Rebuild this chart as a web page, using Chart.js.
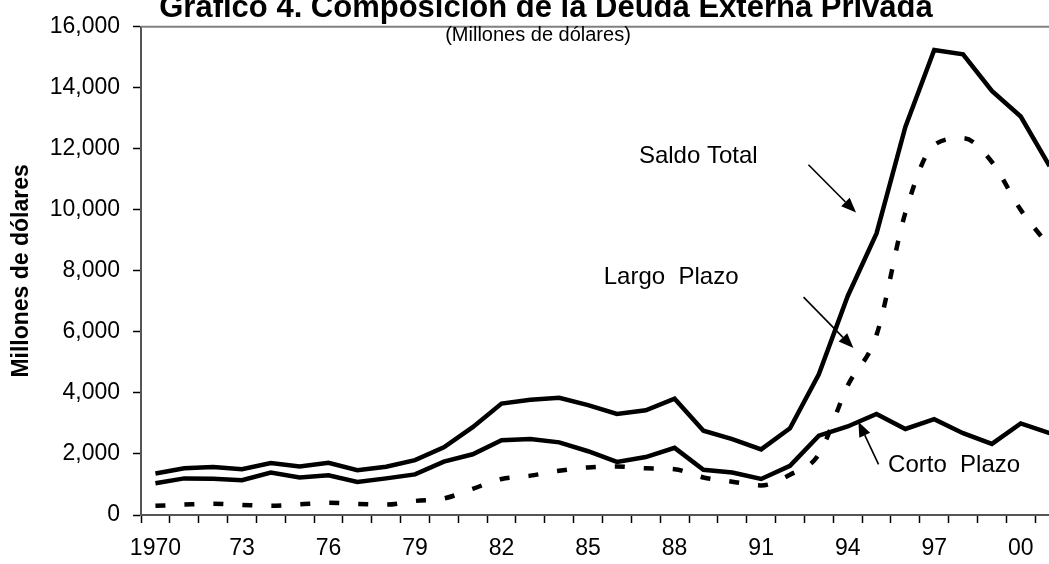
<!DOCTYPE html>
<html>
<head>
<meta charset="utf-8">
<script src="https://cdn.jsdelivr.net/npm/chart.js@4.4.1/dist/chart.umd.min.js"></script>
<style>
  html, body { margin: 0; padding: 0; background: #fff; overflow: hidden; }
  #wrap { width: 1080px; height: 564px; }
</style>
</head>
<body>
<div id="wrap"><canvas id="chart" width="1080" height="564"></canvas></div>
<script>
// Composición de la Deuda Externa Privada, millones de dólares, 1970-2001

const years = [1970, 1971, 1972, 1973, 1974, 1975, 1976, 1977, 1978, 1979,
               1980, 1981, 1982, 1983, 1984, 1985, 1986, 1987, 1988, 1989,
               1990, 1991, 1992, 1993, 1994, 1995, 1996, 1997, 1998, 1999,
               2000, 2001];

// tick text shown under every third year
const xTickText = ['1970', '', '', '73', '', '', '76', '', '', '79',
                   '', '', '82', '', '', '85', '', '', '88', '',
                   '', '91', '', '', '94', '', '', '97', '', '',
                   '00', ''];

const saldoTotal = [1360, 1530, 1570, 1500, 1700, 1590, 1710, 1470, 1580, 1800,
                    2220, 2880, 3650, 3780, 3840, 3600, 3310, 3430, 3810, 2760,
                    2490, 2150, 2840, 4610, 7170, 9230, 12720, 15240, 15100, 13900,
                    13060, 11430];

const largoPlazo = [300, 340, 370, 330, 300, 350, 400, 360, 340, 460,
                    540, 860, 1180, 1290, 1450, 1560, 1590, 1530, 1500, 1230,
                    1090, 970, 1320, 1990, 4240, 5900, 9900, 12130, 12350, 11570,
                    10000, 8800];

const cortoPlazo = [1040, 1200, 1190, 1140, 1390, 1230, 1300, 1080, 1200, 1330,
                    1750, 1990, 2450, 2490, 2380, 2090, 1740, 1900, 2200, 1480,
                    1390, 1180, 1610, 2600, 2900, 3310, 2820, 3140, 2680, 2330,
                    3000, 2680];

// text labels with their arrows, placed in data units (year, value)
const notes = [
  { text: 'Saldo Total',  at: [1988.82, 11750], from: [1992.64, 11480], to: [1994.29, 9910] },
  { text: 'Largo  Plazo', at: [1987.88, 7790],  from: [1992.47, 7140],  to: [1994.20, 5470] },
  { text: 'Corto  Plazo', at: [1997.69, 1610],  from: [1995.07, 1660],  to: [1994.37, 3060] }
];

const FONT = "'Liberation Sans', Arial, sans-serif";

// draws titles, the plot's top border and the arrow notes
const decorations = {
  id: 'decorations',
  afterDraw(chart) {
    const ctx = chart.ctx;
    const xs = chart.scales.x, ys = chart.scales.y;
    const area = chart.chartArea;
    const px = (yr) => xs.getPixelForValue(yr - years[0]);
    const py = (v) => ys.getPixelForValue(v);

    ctx.save();
    // top border of plot area
    ctx.strokeStyle = '#808080';
    ctx.lineWidth = 2;
    ctx.beginPath();
    ctx.moveTo(area.left, area.top);
    ctx.lineTo(area.right, area.top);
    ctx.stroke();

    ctx.fillStyle = '#000';
    ctx.textAlign = 'center';
    ctx.textBaseline = 'alphabetic';
    ctx.font = 'bold 31px ' + FONT;
    ctx.fillText('Gráfico 4. Composición de la Deuda Externa Privada', 546, 17);

    ctx.font = '20px ' + FONT;
    ctx.textBaseline = 'middle';
    ctx.fillText('(Millones de dólares)', 538, 35);

    // y axis title
    ctx.save();
    ctx.translate(22, (area.top + area.bottom) / 2);
    ctx.rotate(-Math.PI / 2);
    ctx.font = 'bold 23px ' + FONT;
    ctx.fillText('Millones de dólares', 0, 0);
    ctx.restore();

    ctx.font = '24px ' + FONT;
    notes.forEach(n => {
      ctx.fillText(n.text, px(n.at[0]), py(n.at[1]));
      const x1 = px(n.from[0]), y1 = py(n.from[1]);
      const x2 = px(n.to[0]), y2 = py(n.to[1]);
      const ang = Math.atan2(y2 - y1, x2 - x1);
      const head = 15, half = 6;
      const bx = x2 - head * Math.cos(ang), by = y2 - head * Math.sin(ang);
      ctx.strokeStyle = '#000';
      ctx.lineWidth = 1.6;
      ctx.beginPath();
      ctx.moveTo(x1, y1);
      ctx.lineTo(bx, by);
      ctx.stroke();
      ctx.beginPath();
      ctx.moveTo(x2, y2);
      ctx.lineTo(bx + half * Math.sin(ang), by - half * Math.cos(ang));
      ctx.lineTo(bx - half * Math.sin(ang), by + half * Math.cos(ang));
      ctx.closePath();
      ctx.fill();
    });
    ctx.restore();
  }
};

const lineStyle = {
  borderColor: '#000',
  borderWidth: 4.5,
  pointRadius: 0,
  fill: false,
  tension: 0
};

new Chart(document.getElementById('chart').getContext('2d'), {
  type: 'line',
  data: {
    labels: years.map(String),
    datasets: [
      Object.assign({ label: 'Saldo Total', data: saldoTotal }, lineStyle),
      Object.assign({ label: 'Largo Plazo', data: largoPlazo, borderDash: [10, 19],
                      cubicInterpolationMode: 'monotone' }, lineStyle),
      Object.assign({ label: 'Corto Plazo', data: cortoPlazo }, lineStyle)
    ]
  },
  options: {
    responsive: false,
    animation: false,
    devicePixelRatio: 1,
    layout: { padding: { left: 0, top: 18, right: 16, bottom: 0 } },
    plugins: {
      legend: { display: false },
      tooltip: { enabled: false },
      title: { display: false }
    },
    scales: {
      x: {
        type: 'category',
        offset: true,
        grid: {
          offset: true,
          drawOnChartArea: false,
          drawTicks: true,
          tickLength: 8,
          tickWidth: 1.5,
          color: '#000'
        },
        border: { display: true, color: '#555', width: 2 },
        ticks: {
          autoSkip: false,
          maxRotation: 0,
          padding: 12,
          color: '#000',
          font: { family: FONT, size: 23 },
          callback: (val, i) => xTickText[i]
        },
        afterFit: (s) => { s.height = 49; }
      },
      y: {
        min: 0,
        max: 16000,
        ticks: {
          stepSize: 2000,
          padding: 13,
          color: '#000',
          font: { family: FONT, size: 23 },
          callback: (v) => v.toLocaleString('en-US')
        },
        grid: {
          drawOnChartArea: false,
          drawTicks: true,
          tickLength: 8,
          tickWidth: 1.5,
          color: '#000'
        },
        border: { display: true, color: '#555', width: 2 },
        afterFit: (s) => { s.width = 141; }
      }
    }
  },
  plugins: [decorations]
});
</script>
</body>
</html>
